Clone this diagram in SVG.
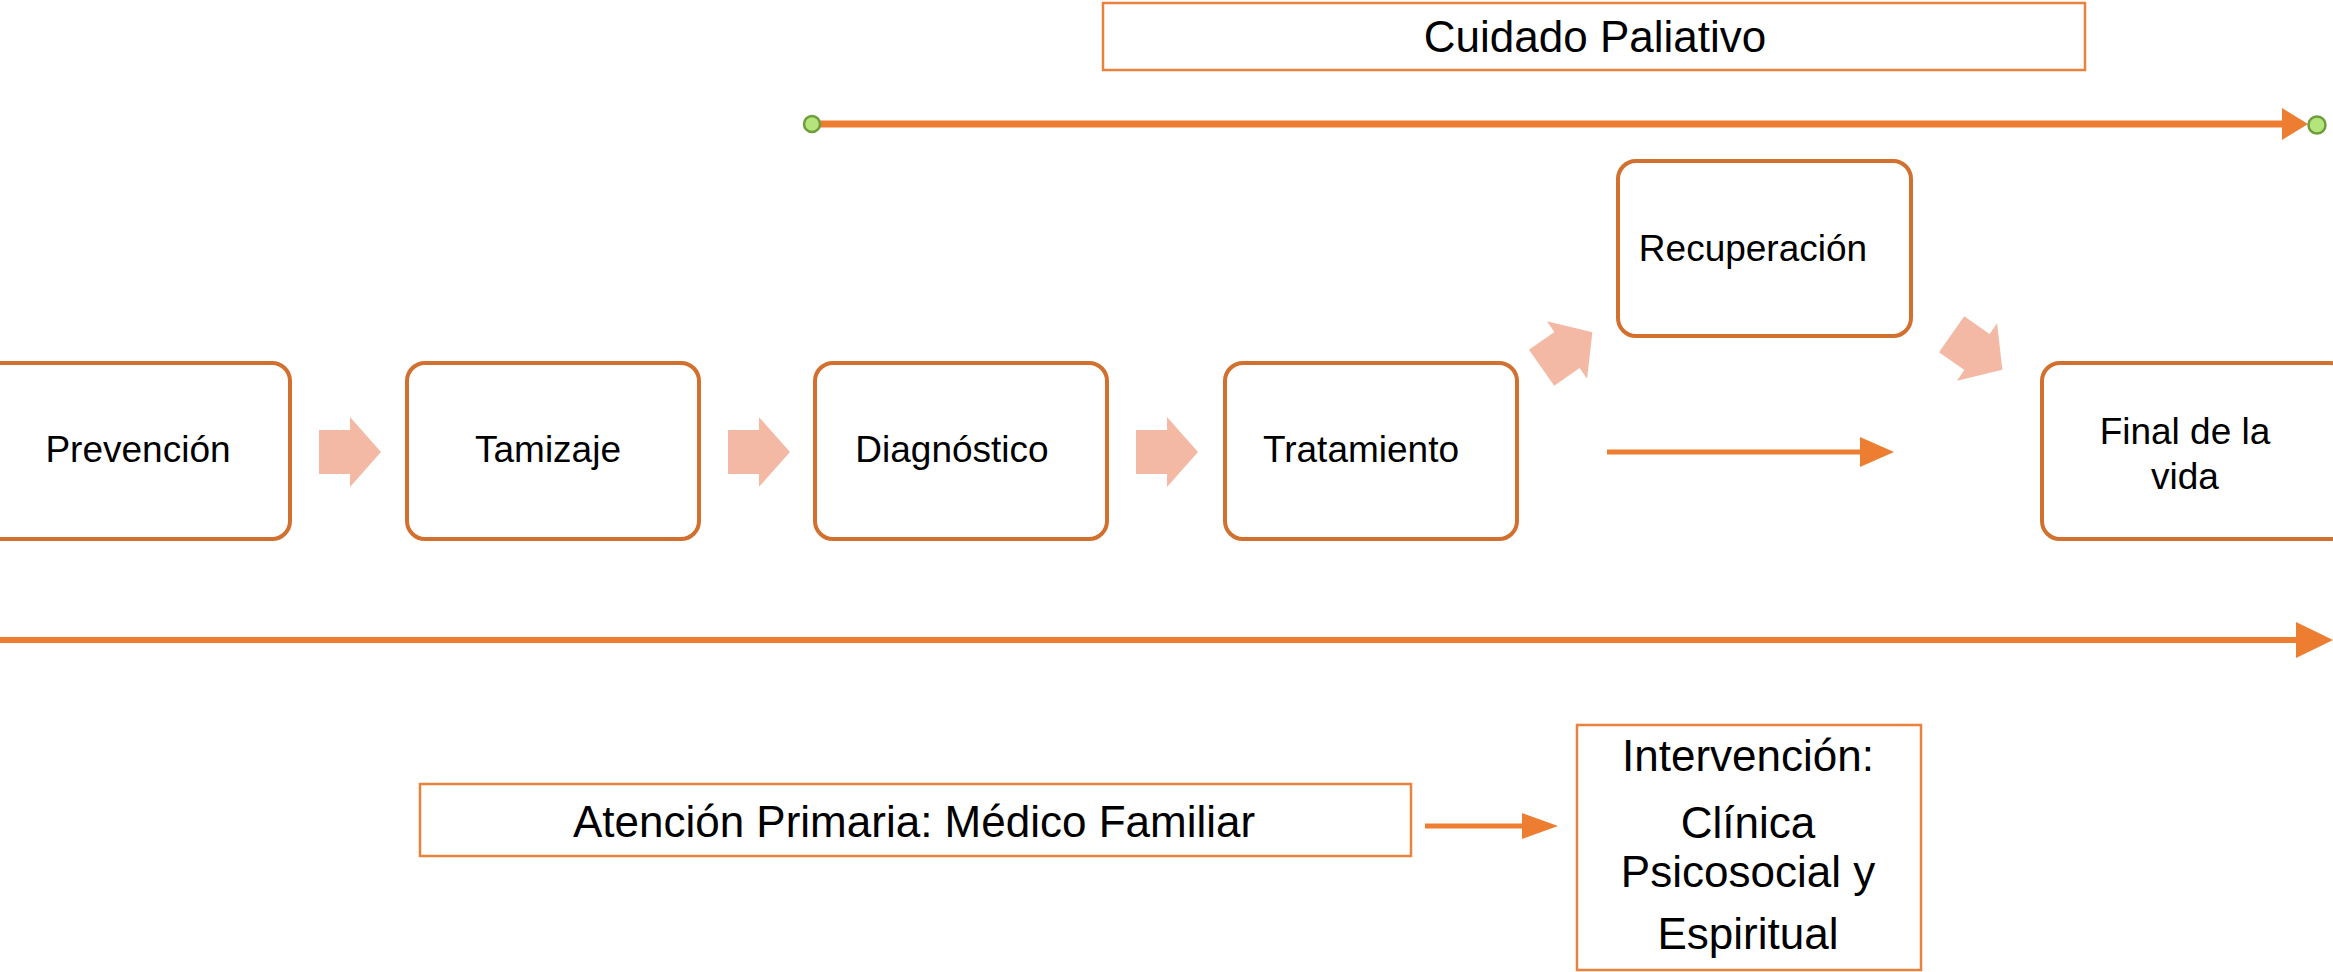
<svg xmlns="http://www.w3.org/2000/svg" width="2333" height="972" viewBox="0 0 2333 972">
<style>
.node{fill:#fff;stroke:#D2702F;stroke-width:4}
.lbl{fill:#fff;stroke:#E8823C;stroke-width:2.5}
.t{font-family:"Liberation Sans",Arial,sans-serif;font-size:37px;fill:#000;text-anchor:middle}
.tb{font-family:"Liberation Sans",Arial,sans-serif;font-size:44px;fill:#000;text-anchor:middle}
.line{stroke:#ED7D31;fill:none}
.pale{fill:#F4B9A4}
.dot{fill:#B3E57A;stroke:#6F9C3C;stroke-width:2.5}
</style>
<defs>
<path id="bigArrow" d="M-31,-22 H0 V-35 L31,0 L0,35 V22 H-31 Z"/>
</defs>
<g id="cuidado-paliativo">
<rect class="lbl" x="1103" y="3" width="982" height="67"/>
<text class="tb" x="1595" y="52">Cuidado Paliativo</text>
</g>
<g id="prevencion">
<rect class="node" x="-16" y="363" width="306" height="176" rx="18"/>
<text class="t" x="138" y="462">Prevención</text>
</g>
<g id="tamizaje">
<rect class="node" x="407" y="363" width="292" height="176" rx="18"/>
<text class="t" x="548" y="462">Tamizaje</text>
</g>
<g id="diagnostico">
<rect class="node" x="815" y="363" width="292" height="176" rx="18"/>
<text class="t" x="952" y="462">Diagnóstico</text>
</g>
<g id="tratamiento">
<rect class="node" x="1225" y="363" width="292" height="176" rx="18"/>
<text class="t" x="1361" y="462">Tratamiento</text>
</g>
<g id="recuperacion">
<rect class="node" x="1618" y="161" width="293" height="175" rx="18"/>
<text class="t" x="1753" y="261">Recuperación</text>
</g>
<g id="final-vida">
<rect class="node" x="2042" y="363" width="306" height="176" rx="18"/>
<text class="t" x="2185" y="444">Final de la</text>
<text class="t" x="2185" y="489">vida</text>
</g>
<g id="atencion-primaria">
<rect class="lbl" x="420" y="784" width="991" height="72"/>
<text class="tb" x="914" y="837">Atención Primaria: Médico Familiar</text>
</g>
<g id="intervencion">
<rect class="lbl" x="1577" y="725" width="344" height="245"/>
<text class="tb" x="1748" y="771">Intervención:</text>
<text class="tb" x="1748" y="838">Clínica</text>
<text class="tb" x="1748" y="887">Psicosocial y</text>
<text class="tb" x="1748" y="949">Espiritual</text>
</g>
<g id="connectors">
<line class="line" x1="812" y1="124" x2="2284" y2="124" stroke-width="7"/>
<polygon fill="#ED7D31" points="2282,108 2308,124 2282,140"/>
<circle class="dot" cx="812" cy="124" r="8"/>
<circle class="dot" cx="2317" cy="125" r="8.5"/>
<use href="#bigArrow" class="pale" transform="translate(350,452)"/>
<use href="#bigArrow" class="pale" transform="translate(759,452)"/>
<use href="#bigArrow" class="pale" transform="translate(1167,452)"/>
<use href="#bigArrow" class="pale" transform="translate(1567,350) rotate(-35)"/>
<use href="#bigArrow" class="pale" transform="translate(1977,352) rotate(35)"/>
<line class="line" x1="1607" y1="452" x2="1862" y2="452" stroke-width="5"/>
<polygon fill="#ED7D31" points="1860,437 1894,452 1860,467"/>
<line class="line" x1="0" y1="640" x2="2298" y2="640" stroke-width="6"/>
<polygon fill="#ED7D31" points="2296,622 2333,640 2296,658"/>
<line class="line" x1="1425" y1="826" x2="1524" y2="826" stroke-width="5"/>
<polygon fill="#ED7D31" points="1522,813 1558,826 1522,839"/>
</g>
</svg>
